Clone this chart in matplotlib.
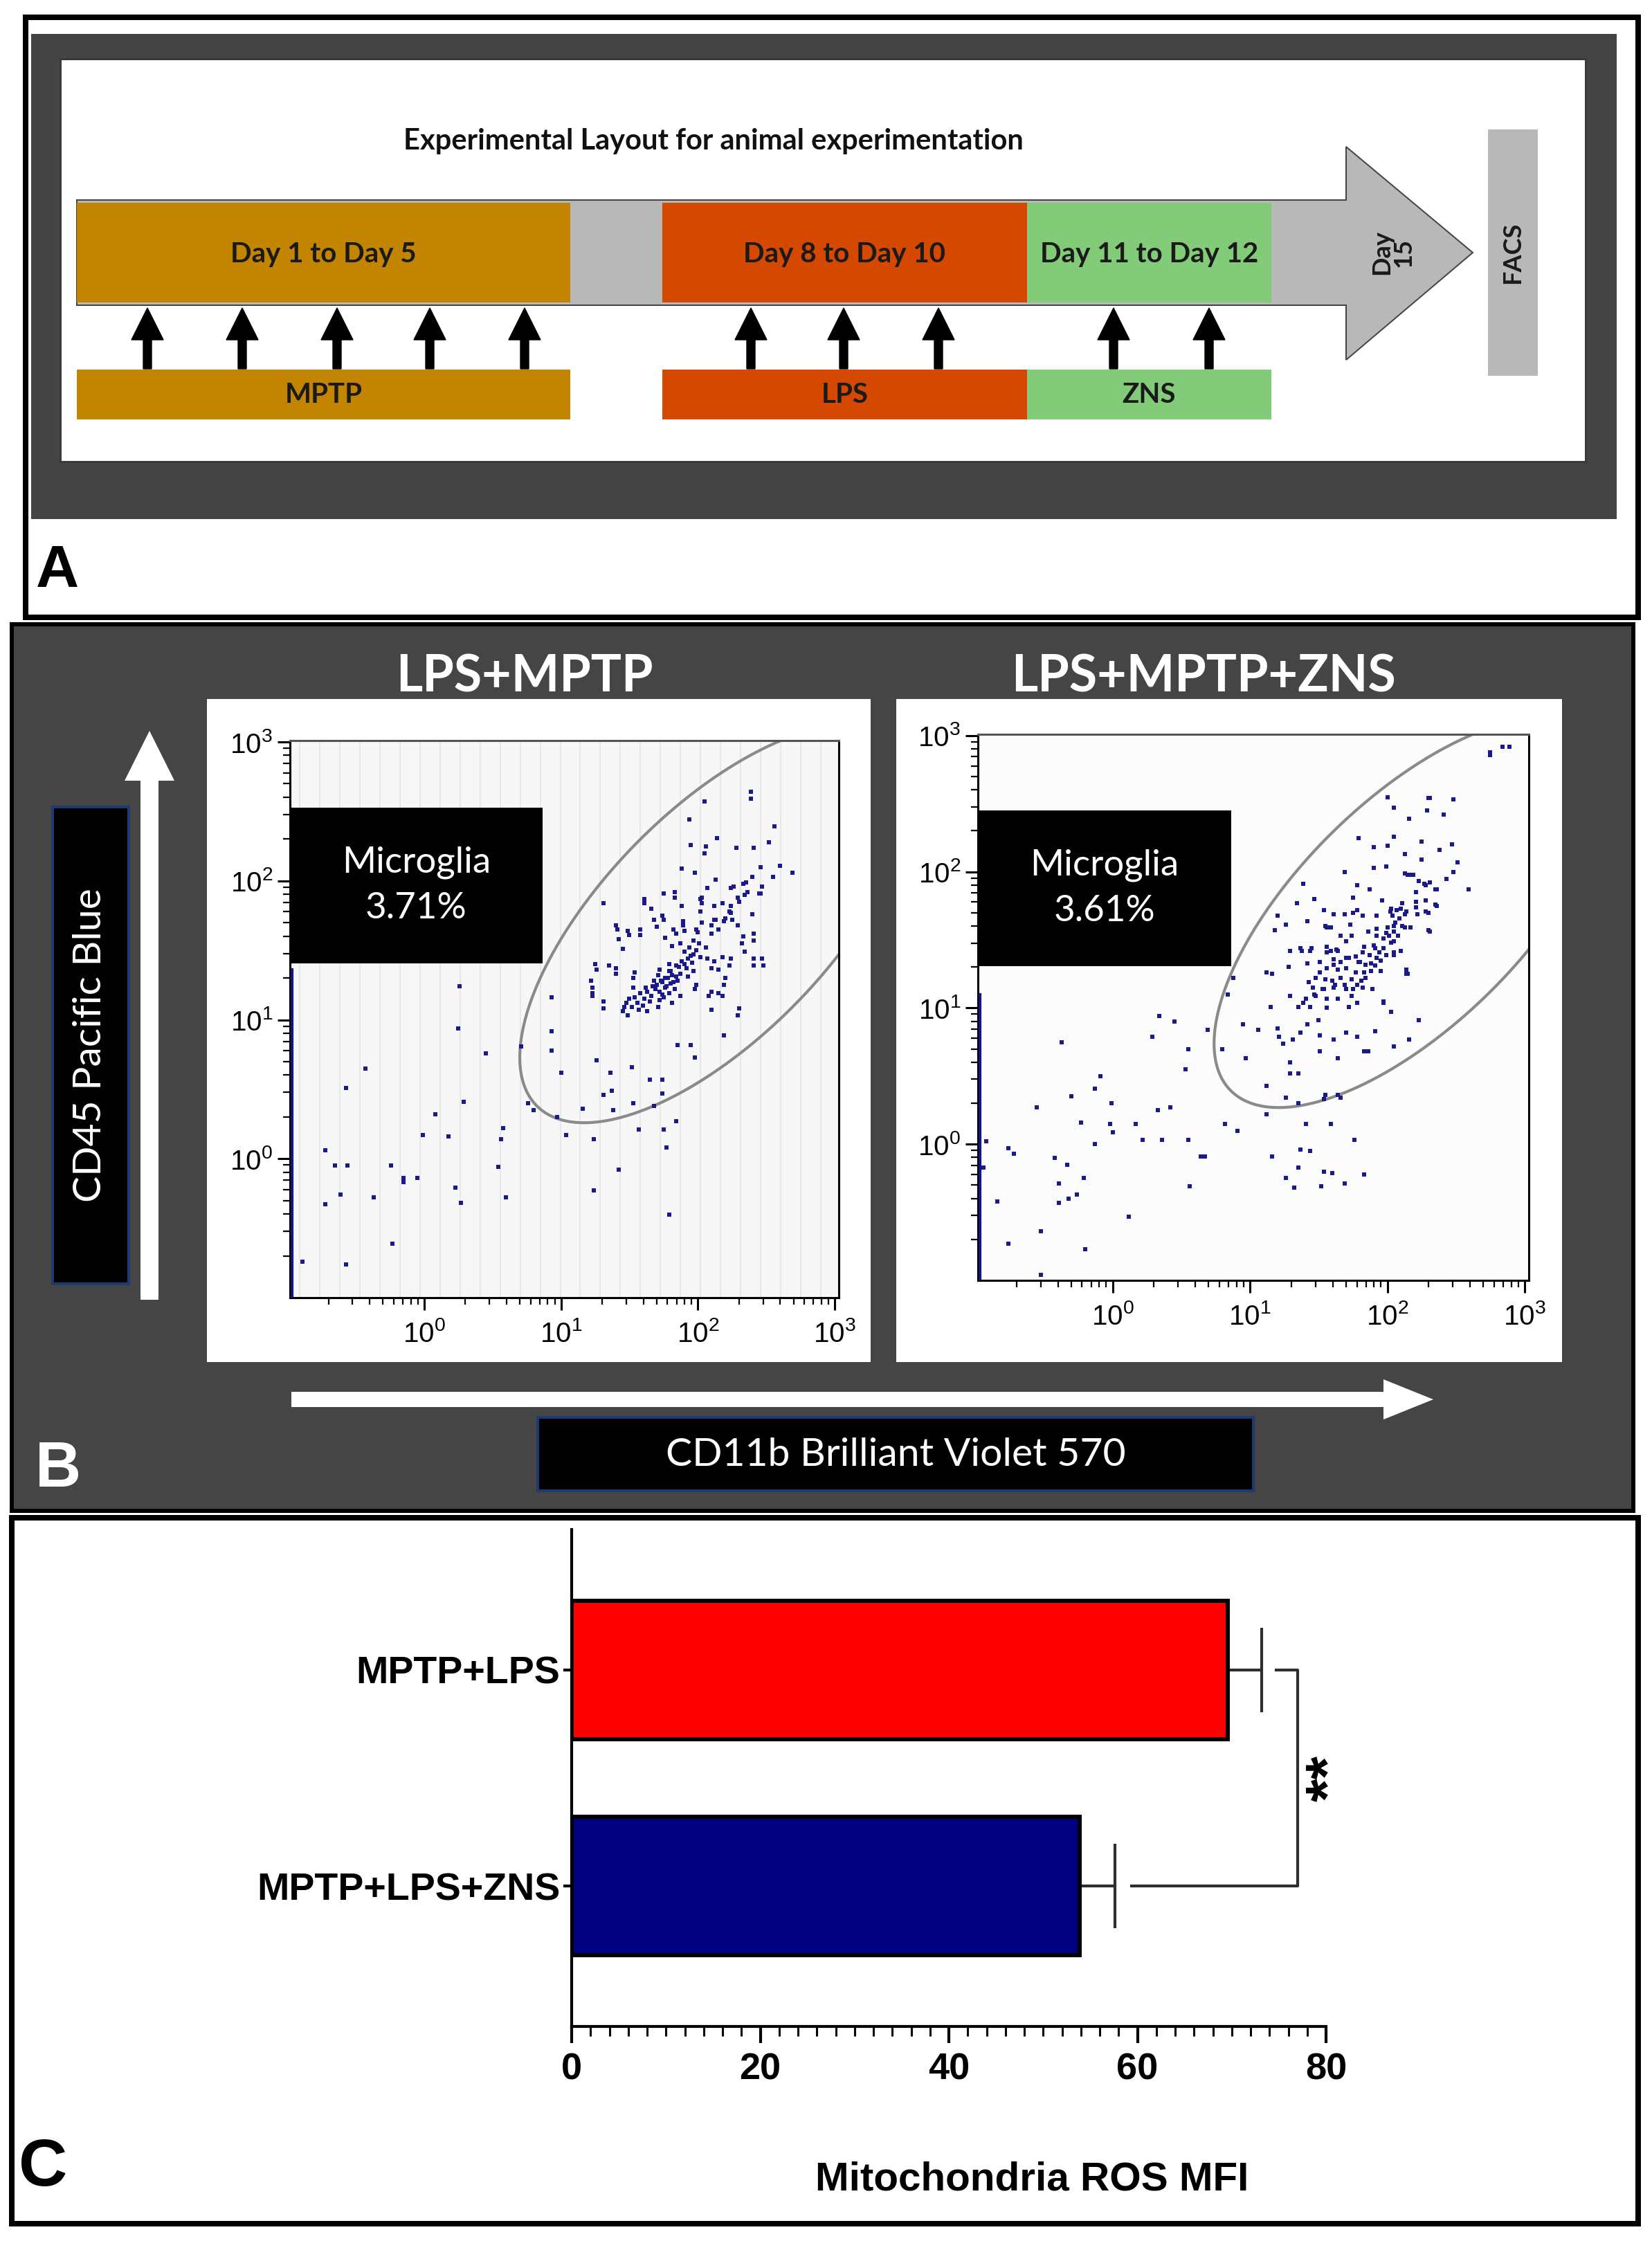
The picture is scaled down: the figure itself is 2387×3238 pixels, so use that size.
import numpy as np
import matplotlib
matplotlib.use("Agg")
import matplotlib.pyplot as plt
from matplotlib.patches import Rectangle, Polygon, FancyArrow
from matplotlib.ticker import FixedLocator, LogLocator, FuncFormatter, MultipleLocator, NullFormatter

# ======================= DATA =======================
# Panel A - experimental timeline
timeline_title = "Experimental Layout for animal experimentation"
timeline_phases = ["Day 1 to Day 5", "Day 8 to Day 10", "Day 11 to Day 12"]
treatments = ["MPTP", "LPS", "ZNS"]
injections_per_treatment = [5, 3, 2]
endpoint_day = "Day\n15"
endpoint_assay = "FACS"

# Panel B - flow cytometry (values are log10 of fluorescence)
flow_titles = ["LPS+MPTP", "LPS+MPTP+ZNS"]
microglia_pct = ["3.71%", "3.61%"]
flow_xlabel = "CD11b Brilliant Violet 570"
flow_ylabel = "CD45 Pacific Blue"
decades = [0, 1, 2, 3]

lps_mptp_outside = [
    (-0.89, -0.74), (-0.72, 0.06), (-0.72, -0.33), (-0.65, -0.05), (-0.61, -0.26), (-0.57, 0.51),
    (-0.56, -0.05), (-0.57, -0.76), (-0.43, 0.65), (-0.37, -0.28), (-0.24, -0.05), (-0.23, -0.61),
    (-0.15, -0.17), (-0.15, -0.14), (-0.05, -0.14), (-0.01, 0.17), (0.08, 0.32), (0.18, 0.16),
    (0.23, -0.21), (0.27, -0.32), (0.25, 0.94), (0.26, 1.24), (0.29, 0.41), (0.45, 0.76),
    (0.54, -0.06), (0.56, 0.14), (0.58, 0.22), (0.60, -0.28), (0.71, 0.81), (0.76, 0.40),
    (0.80, 0.35), (1.04, 0.17), (1.24, 0.14), (1.24, -0.23), (1.42, -0.08), (1.57, 0.21),
    (1.75, 0.21), (1.77, 0.08), (1.79, -0.40), (1.84, 0.27), (0.97, 0.30),
]
lps_mptp_gate = [
    (2.39, 2.64), (2.39, 2.59), (2.05, 2.57), (1.94, 2.44), (2.56, 2.39), (2.14, 2.31), (2.52, 2.28),
    (2.06, 2.25), (2.28, 2.24), (2.41, 2.24), (1.95, 2.26), (2.05, 2.20), (2.60, 2.11), (2.69, 2.06),
    (1.88, 2.09), (1.98, 2.06), (2.13, 2.01), (2.35, 1.99), (2.46, 2.10), (2.55, 2.03), (2.26, 1.96),
    (2.34, 1.90), (2.45, 1.91), (2.03, 1.84), (2.18, 1.84), (2.24, 1.77), (1.83, 1.88), (1.31, 1.84),
    (1.61, 1.84), (1.68, 1.72), (1.75, 1.72), (1.89, 1.71), (2.13, 1.72), (2.29, 1.68), (2.40, 1.76),
    (1.41, 1.65), (1.50, 1.61), (1.58, 1.61), (1.82, 1.65), (2.00, 1.63), (2.41, 1.57), (2.32, 1.55),
    (2.06, 1.52), (1.87, 1.55), (1.42, 1.58), (2.48, 1.39), (2.41, 1.39), (2.23, 1.39), (1.26, 1.36),
    (1.40, 1.33), (2.15, 1.36), (2.19, 1.25), (2.08, 1.17), (2.18, 1.17), (2.29, 1.03), (2.19, 0.89),
    (1.23, 1.23), (1.23, 1.17), (1.31, 1.08), (0.93, 1.16), (0.93, 0.92), (0.93, 0.78), (1.00, 0.62),
    (1.26, 0.71), (1.36, 0.62), (1.52, 0.66), (1.65, 0.57), (1.74, 0.57), (1.98, 0.73), (1.85, 0.82),
    (1.95, 0.82), (1.74, 0.47), (1.68, 0.38), (1.53, 0.40), (1.37, 0.49), (1.31, 0.46), (1.16, 0.36),
    (1.38, 0.35),
    (1.97, 1.57), (2.01, 1.55), (1.94, 1.52), (1.90, 1.49), (1.97, 1.47), (2.02, 1.45), (1.93, 1.44),
    (1.88, 1.42), (1.96, 1.41), (1.84, 1.39), (1.92, 1.37), (1.97, 1.35), (1.79, 1.35), (1.72, 1.36),
    (1.71, 1.32), (1.76, 1.30), (1.81, 1.32), (1.87, 1.33), (1.93, 1.31), (1.74, 1.27), (1.80, 1.26),
    (1.85, 1.28), (1.67, 1.24), (1.76, 1.23), (1.83, 1.22), (1.63, 1.20), (1.72, 1.20), (1.79, 1.19),
    (1.58, 1.19), (1.54, 1.16), (1.61, 1.15), (1.66, 1.17), (1.75, 1.16), (1.48, 1.12), (1.52, 1.09),
    (1.57, 1.07), (1.63, 1.06), (1.45, 1.06), (1.49, 1.03), (1.71, 1.09), (1.81, 1.12), (1.87, 1.17),
    (2.07, 1.44), (2.12, 1.42), (2.18, 1.45), (2.10, 1.37), (1.54, 1.34), (1.53, 1.30), (2.10, 1.20),
    (2.15, 1.19), (1.98, 1.22), (1.99, 1.25), (2.20, 1.30), (2.10, 1.07), (2.30, 1.08), (1.25, 1.40),
    (1.35, 1.39), (1.22, 1.28), (1.23, 1.19), (1.31, 1.13), (1.40, 1.37), (1.45, 1.51), (1.40, 1.68),
    (1.49, 1.64), (1.58, 1.65), (1.70, 1.67), (1.76, 1.59), (1.81, 1.53), (1.84, 1.62), (1.89, 1.68),
    (1.90, 1.64), (1.99, 1.65), (2.03, 1.70), (2.10, 1.68), (2.12, 1.72), (2.19, 1.71), (2.25, 1.72),
    (2.15, 1.65), (2.10, 1.62), (2.33, 1.60), (2.41, 1.62), (2.34, 1.49), (2.41, 1.44), (2.47, 1.44),
    (2.24, 1.44), (2.23, 1.78), (2.24, 1.82), (2.30, 1.85), (2.29, 1.88), (2.20, 1.73), (2.02, 1.78),
    (2.12, 1.82), (2.02, 1.87), (1.88, 1.82), (1.74, 1.75), (1.66, 1.80), (1.61, 1.87), (1.75, 1.91),
    (1.83, 1.92), (2.03, 1.88), (2.07, 1.95), (2.24, 1.95), (2.33, 1.98), (2.36, 1.92), (2.40, 2.03),
    (2.47, 1.96), (2.46, 1.91),
    (1.70, 1.25), (1.73, 1.28), (1.78, 1.30), (1.82, 1.27), (1.77, 1.24), (1.69, 1.22), (1.74, 1.18),
    (1.80, 1.35), (1.86, 1.38), (1.90, 1.40), (1.84, 1.31), (1.65, 1.13), (1.60, 1.10), (1.68, 1.28),
    (1.95, 1.46), (1.99, 1.50), (1.56, 1.12), (1.62, 1.23), (1.79, 1.40), (1.72, 1.14), (1.46, 1.09),
    (1.50, 1.15), (1.53, 1.23),
]

lps_mptp_zns_outside = [
    (-0.92, 0.02), (-0.94, -0.17), (-0.76, -0.03), (-0.72, -0.07), (-0.84, -0.42), (-0.76, -0.73),
    (-0.52, -0.64), (-0.52, -0.96), (-0.55, 0.27), (-0.37, 0.75), (-0.42, -0.10), (-0.39, -0.29),
    (-0.39, -0.43), (-0.33, -0.15), (-0.32, -0.40), (-0.30, 0.35), (-0.26, -0.37), (-0.23, 0.16),
    (-0.21, -0.25), (-0.20, -0.77), (-0.13, 0.00), (-0.13, 0.41), (-0.09, 0.50), (-0.02, 0.15),
    (-0.01, 0.30), (0.00, 0.09), (0.12, -0.53), (0.17, 0.15), (0.22, 0.03), (0.29, 0.79),
    (0.33, 0.25), (0.34, 0.94), (0.36, 0.03), (0.42, 0.27), (0.45, 0.90), (0.53, 0.55),
    (0.55, 0.70), (0.55, 0.03), (0.56, -0.31), (0.64, -0.09), (0.67, -0.09), (0.69, 0.84),
    (0.82, 0.15), (0.80, 0.70), (0.91, 0.10), (0.97, 0.63), (1.12, 0.22), (1.16, -0.09),
    (1.26, -0.25), (1.32, -0.32), (1.35, -0.17), (1.37, -0.04), (1.44, -0.05), (1.52, -0.31),
    (1.54, -0.20), (1.60, -0.21), (1.69, -0.29), (1.76, 0.03), (1.83, -0.22), (1.41, 0.15),
    (1.59, 0.15),
]
lps_mptp_zns_gate = [
    (2.75, 2.86), (2.75, 2.88), (2.84, 2.92), (2.89, 2.92),
    (2.00, 2.55), (2.05, 2.47), (2.30, 2.54), (2.31, 2.54), (2.48, 2.53), (2.29, 2.45), (2.41, 2.42),
    (2.16, 2.39), (2.05, 2.26), (1.79, 2.25), (1.90, 2.18), (2.00, 2.19), (2.13, 2.13), (2.25, 2.22),
    (2.38, 2.16), (2.47, 2.20), (2.25, 2.09), (2.51, 2.07), (1.69, 2.00), (1.90, 2.03), (1.99, 2.04),
    (2.13, 1.99), (2.18, 1.98), (2.48, 2.00), (1.39, 1.91), (1.78, 1.90), (1.87, 1.87), (2.27, 1.91),
    (2.35, 1.87), (2.59, 1.87), (2.43, 1.95), (1.75, 1.81), (1.96, 1.79), (2.11, 1.77), (2.28, 1.79),
    (2.35, 1.76), (1.34, 1.77), (1.47, 1.80), (1.54, 1.72), (1.61, 1.69), (1.78, 1.72), (2.02, 1.71),
    (2.07, 1.72), (2.13, 1.69), (2.21, 1.74), (2.28, 1.71), (1.20, 1.68), (1.18, 1.57), (1.26, 1.61),
    (1.42, 1.64), (1.55, 1.60), (1.73, 1.61), (1.99, 1.55), (2.05, 1.60), (2.11, 1.60), (2.30, 1.57),
    (1.37, 1.44), (1.45, 1.44), (1.56, 1.45), (1.64, 1.42), (1.70, 1.49), (1.83, 1.45), (1.91, 1.44),
    (1.97, 1.51), (2.05, 1.49), (2.10, 1.42), (2.14, 1.28), (2.15, 1.25), (1.12, 1.26), (1.16, 1.25),
    (1.28, 1.30), (1.42, 1.33), (1.51, 1.34), (1.61, 1.36), (1.70, 1.37), (1.80, 1.34), (1.88, 1.33),
    (1.92, 1.37), (1.99, 1.39), (2.05, 1.41), (0.88, 1.22), (0.84, 1.10), (1.15, 1.01), (1.29, 1.09),
    (1.39, 1.04), (1.47, 1.10), (1.54, 1.14), (1.62, 1.17), (1.70, 1.14), (1.78, 1.17), (1.84, 1.22),
    (1.89, 1.14), (1.97, 1.05), (2.03, 0.97), (2.23, 0.91), (2.16, 0.77), (2.05, 0.72), (0.95, 0.88),
    (1.06, 0.84), (1.20, 0.85), (1.21, 0.79), (1.24, 0.74), (1.31, 0.77), (1.37, 0.82), (1.42, 0.88),
    (1.51, 0.80), (1.61, 0.77), (1.70, 0.82), (1.78, 0.79), (1.83, 0.68), (1.86, 0.68), (1.91, 0.83),
    (1.29, 0.60), (1.51, 0.68), (1.64, 0.63), (1.35, 0.52), (1.54, 0.33), (1.66, 0.34), (1.12, 0.43),
    (1.29, 0.52), (1.50, 0.91), (1.26, 0.34), (1.35, 0.30), (1.55, 0.36), (1.64, 0.36),
    (2.05, 1.56), (2.01, 1.53), (2.08, 1.53), (2.03, 1.48), (1.97, 1.44), (1.90, 1.46), (1.94, 1.41),
    (1.87, 1.39), (1.82, 1.41), (1.77, 1.38), (1.72, 1.37), (1.79, 1.34), (1.84, 1.32), (1.91, 1.31),
    (1.95, 1.35), (1.66, 1.34), (1.61, 1.32), (1.56, 1.29), (1.64, 1.28), (1.70, 1.29), (1.77, 1.26),
    (1.83, 1.26), (1.88, 1.27), (1.95, 1.27), (1.51, 1.26), (1.48, 1.22), (1.55, 1.21), (1.60, 1.20),
    (1.66, 1.22), (1.74, 1.21), (1.81, 1.20), (1.69, 1.17), (1.61, 1.15), (1.53, 1.14), (1.46, 1.15),
    (1.43, 1.19), (1.75, 1.14), (1.82, 1.15), (1.74, 1.09), (1.78, 1.04), (1.64, 1.07), (1.56, 1.07),
    (1.48, 1.09), (1.41, 1.07), (1.35, 1.01), (1.44, 1.01), (1.56, 1.00), (1.72, 1.01), (1.97, 1.04),
    (2.14, 1.27), (2.14, 1.25), (2.05, 1.39), (2.00, 1.59), (2.06, 1.63), (2.13, 1.59), (2.17, 1.59),
    (2.10, 1.73), (2.14, 1.71), (2.04, 1.68), (2.09, 1.66), (2.03, 1.73), (2.21, 1.78), (2.22, 1.69),
    (2.30, 1.70), (2.36, 1.75), (2.31, 1.56), (1.92, 1.58), (1.92, 1.53), (1.86, 1.56), (1.74, 1.53),
    (1.66, 1.53), (1.63, 1.43), (1.56, 1.41), (1.59, 1.42), (1.29, 1.42), (1.38, 1.42), (1.44, 1.42),
    (1.92, 1.68), (1.82, 1.68), (1.75, 1.70), (1.69, 1.69), (1.59, 1.59), (1.56, 1.59), (2.19, 1.98),
    (2.15, 1.98), (2.23, 1.93), (2.28, 1.90), (2.21, 1.85), (2.31, 1.92), (2.36, 1.87),
]

gate_lps_mptp = (2.13, 1.69, 1.85, 0.82, 45.0)      # log10 centre x, y, semi-axes, angle (deg)
gate_lps_mptp_zns = (2.17, 1.70, 1.85, 0.82, 45.0)
edge_pile_lps_mptp = (-1.0, 1.36)                    # log10 CD45 span of events piled on the axis
edge_pile_lps_mptp_zns = (-1.0, 1.10)

# Panel C - mitochondrial ROS
groups = ["MPTP+LPS", "MPTP+LPS+ZNS"]
ros_mfi = [69.6, 53.9]
ros_sem = [3.6, 3.7]
bar_colors = ["#FF0000", "#000080"]
sig_label = "**"
ros_xlabel = "Mitochondria ROS MFI"

# ======================= LAYOUT =======================
W, H = 2387, 3238
PT = 72.0 / 100.0          # points per pixel at dpi=100
CAL = ["Lato", "DejaVu Sans"]
ARI = ["Liberation Sans", "DejaVu Sans"]
plt.rcParams["mathtext.fontset"] = "custom"
plt.rcParams["mathtext.rm"] = "Liberation Sans"

fig = plt.figure(figsize=(W / 100, H / 100), dpi=100)
fig.patch.set_facecolor("white")
bg = fig.add_axes([0, 0, 1, 1])
bg.set_xlim(0, W)
bg.set_ylim(H, 0)
bg.axis("off")


def rect(x0, y0, x1, y1, **kw):
    bg.add_patch(Rectangle((x0, y0), x1 - x0, y1 - y0, **kw))


# ---------------- Panel A ----------------
rect(37, 25, 2367, 892, fc="white", ec="black", lw=8 * PT)
rect(45, 49, 2336, 750, fc="#444444", ec="none")
rect(87, 85, 2291, 667, fc="white", ec="#3a3a3a", lw=3 * PT)
bg.text(1031, 204, timeline_title, ha="center", va="center", fontsize=30,
        fontweight="bold", family=CAL, color="#111111")

body_top, body_bot, body_l = 289, 441, 111
head_x, head_top, head_bot, tip_x = 1945, 212, 520, 2128
mid = (body_top + body_bot) / 2
bg.add_patch(Polygon([(body_l, body_top), (head_x, body_top), (head_x, head_top), (tip_x, mid),
                      (head_x, head_bot), (head_x, body_bot), (body_l, body_bot)],
                     closed=True, fc="#B8B8B8", ec="#444444", lw=2 * PT))
phase_spans = [(111, 824), (957, 1484), (1484, 1837)]
phase_colors = ["#C38400", "#D44800", "#82CB78"]
for (x0, x1), c, lab in zip(phase_spans, phase_colors, timeline_phases):
    rect(x0, body_top + 4, x1, body_bot - 4, fc=c, ec="none")
    bg.text((x0 + x1) / 2, mid + 2, lab, ha="center", va="center", fontsize=29,
            fontweight="bold", family=CAL, color="#1a1a1a")
bg.text(2012, mid, endpoint_day, ha="center", va="center", rotation=90, fontsize=26,
        fontweight="bold", family=CAL, color="#1a1a1a", linespacing=0.95)
rect(2150, 187, 2222, 543, fc="#B8B8B8", ec="none")
bg.text(2186, mid, endpoint_assay, ha="center", va="center", rotation=90, fontsize=26,
        fontweight="bold", family=CAL, color="#1a1a1a")

arrow_x = [[213, 350, 487, 621, 758], [1085, 1219, 1356], [1609, 1747]]
for (x0, x1), c, lab, xs, n in zip(phase_spans, phase_colors, treatments, arrow_x,
                                   injections_per_treatment):
    rect(x0, 534, x1, 606, fc=c, ec="none")
    bg.text((x0 + x1) / 2, 571, lab, ha="center", va="center", fontsize=29,
            fontweight="bold", family=CAL, color="#1a1a1a")
    for xa in xs[:n]:
        bg.add_patch(FancyArrow(xa, 533, 0, -88, width=12, head_width=46, head_length=46,
                                length_includes_head=True, color="black"))
bg.text(83, 826, "A", ha="center", va="center", fontsize=62, fontweight="bold",
        family=ARI, color="black")

# ---------------- Panel B ----------------
rect(17, 902, 2360, 2183, fc="#454545", ec="black", lw=6 * PT)
panel_boxes = [(299, 1010, 1258, 1968), (1295, 1010, 2257, 1968)]
for (x0, y0, x1, y1) in panel_boxes:
    rect(x0, y0, x1, y1, fc="white", ec="none")
for xc, t in zip([758, 1739], flow_titles):
    bg.text(xc, 978, t, ha="center", va="center", fontsize=53, fontweight="bold",
            family=CAL, color="white")
rect(76, 1166, 186, 1855, fc="black", ec="#1d3a70", lw=4 * PT)
bg.text(131, 1510, flow_ylabel, ha="center", va="center", rotation=90, fontsize=41,
        family=CAL, color="white")
bg.add_patch(FancyArrow(216, 1878, 0, -822, width=26, head_width=72, head_length=72,
                        length_includes_head=True, color="white", ec="none"))
bg.add_patch(FancyArrow(421, 2022, 1650, 0, width=22, head_width=58, head_length=72,
                        length_includes_head=True, color="white", ec="none"))
rect(777, 2048, 1811, 2154, fc="black", ec="#1d3a70", lw=4 * PT)
bg.text(1294, 2102, flow_xlabel, ha="center", va="center", fontsize=41,
        family=CAL, color="white")
bg.text(84, 2124, "B", ha="center", va="center", fontsize=66, fontweight="bold",
        family=ARI, color="white")


def flow_panel(box, outside, inside, gate, pile, pct, stripes, box_frac):
    l, t, r, b = box
    ax = fig.add_axes([l / W, 1 - b / H, (r - l) / W, (b - t) / H])
    ax.set_xscale("log")
    ax.set_yscale("log")
    xmin = 10 ** -0.98
    ax.set_xlim(xmin, 10 ** 3.03)
    ax.set_ylim(10 ** -1.0, 10 ** 3.01)
    ax.set_facecolor("#f7f7f7" if stripes else "#fcfcfc")
    if stripes:
        for xf in np.arange(0.018, 1.0, 0.0365):
            ax.plot([xf, xf], [0, 1], transform=ax.transAxes, color="#e4e4e4", lw=1.2, zorder=0)
    ev = np.array(outside + inside)
    ax.scatter(10 ** ev[:, 0], 10 ** ev[:, 1], s=14, marker="s", color="#1a1a8a",
               linewidths=0, zorder=3)
    cx, cy, a, bb, ang = gate
    th = np.radians(ang)
    tt = np.linspace(0, 2 * np.pi, 720)
    u, v = a * np.cos(tt), bb * np.sin(tt)
    gx = cx + u * np.cos(th) - v * np.sin(th)
    gy = cy + u * np.sin(th) + v * np.cos(th)
    ax.plot(10 ** gx, 10 ** gy, color="#8a8a8a", lw=3, zorder=2)
    ax.plot([xmin * 1.03, xmin * 1.03], [10 ** pile[0], 10 ** pile[1]], color="#16167a",
            lw=3, zorder=3)
    y0, y1 = box_frac
    ax.add_patch(Rectangle((0, y0), 0.46, y1 - y0, transform=ax.transAxes, fc="black",
                           ec="none", zorder=5))
    ax.text(0.23, (y0 + y1) / 2, "Microglia\n" + pct, transform=ax.transAxes, ha="center",
            va="center", fontsize=38, family=CAL, color="white", linespacing=1.5, zorder=6)
    for s in ax.spines.values():
        s.set_color("black")
        s.set_linewidth(2.2)
    ax.spines["top"].set_color("#555555")
    major = [10.0 ** d for d in decades]
    fmt = FuncFormatter(lambda val, pos: r"$\mathregular{10^{%d}}$" % round(np.log10(val)))
    for axis in (ax.xaxis, ax.yaxis):
        axis.set_major_locator(FixedLocator(major))
        axis.set_major_formatter(fmt)
        axis.set_minor_locator(LogLocator(base=10, subs=np.arange(2, 10)))
        axis.set_minor_formatter(NullFormatter())
    ax.tick_params(which="major", direction="out", length=13, width=2.2, labelsize=29,
                   pad=5, colors="black")
    ax.tick_params(axis="x", which="major", pad=11)
    ax.tick_params(which="minor", direction="out", length=7, width=1.6)
    for lab in ax.get_xticklabels() + ax.get_yticklabels():
        lab.set_family(ARI)
    return ax


flow_panel((419, 1070, 1212, 1875), lps_mptp_outside, lps_mptp_gate, gate_lps_mptp,
           edge_pile_lps_mptp, microglia_pct[0], True, (0.60, 0.88))
flow_panel((1413, 1061, 2209, 1850), lps_mptp_zns_outside, lps_mptp_zns_gate, gate_lps_mptp_zns,
           edge_pile_lps_mptp_zns, microglia_pct[1], False, (0.575, 0.861))

# ---------------- Panel C ----------------
rect(17, 2193, 2367, 3213, fc="white", ec="black", lw=8 * PT)
bg.text(62, 3133, "C", ha="center", va="center", fontsize=70, fontweight="bold",
        family=ARI, color="black")

axc = fig.add_axes([826 / W, 1 - 2928 / H, 1090 / W, 718 / H])
axc.patch.set_alpha(0)
ypos = np.arange(len(groups))[::-1]
axc.barh(ypos, ros_mfi, height=0.64, color=bar_colors, edgecolor="black", linewidth=4.3, zorder=3)
cap = 0.195
for y, m, e in zip(ypos, ros_mfi, ros_sem):
    axc.hlines(y, m, m + e, color="#2e2e2e", lw=3, zorder=2)
    axc.vlines(m + e, y - cap, y + cap, color="#2e2e2e", lw=3, zorder=2)
x_br = 77.0
top_start = ros_mfi[0] + ros_sem[0] + 1.5
bot_start = ros_mfi[1] + ros_sem[1] + 1.8
axc.plot([top_start, x_br, x_br, bot_start], [ypos[0], ypos[0], ypos[1], ypos[1]],
         color="#2e2e2e", lw=3, clip_on=False, zorder=2)
axc.text(x_br + 3.6, (ypos[0] + ypos[1]) / 2, sig_label, rotation=90, ha="center", va="center",
         fontsize=62, fontweight="bold", family=ARI, color="black")
axc.set_xlim(0, 80)
axc.set_ylim(-0.65, 1.65)
axc.set_yticks(ypos)
axc.set_yticklabels(groups)
axc.xaxis.set_major_locator(MultipleLocator(20))
axc.xaxis.set_minor_locator(MultipleLocator(2))
for sp in ("top", "right"):
    axc.spines[sp].set_visible(False)
for sp in ("left", "bottom"):
    axc.spines[sp].set_linewidth(3)
axc.tick_params(axis="x", which="major", direction="out", length=17, width=3, pad=10, labelsize=39)
axc.tick_params(axis="x", which="minor", direction="out", length=10, width=2.2)
axc.tick_params(axis="y", direction="out", length=9, width=3, pad=3, labelsize=40)
for lab in axc.get_xticklabels() + axc.get_yticklabels():
    lab.set_family(ARI)
    lab.set_fontweight("bold")
axc.set_xlabel(ros_xlabel, fontsize=42, fontweight="bold", family=ARI)
axc.xaxis.set_label_coords(0.61, -0.308)
axc.xaxis.label.set_va("center")

fig.savefig("out.png", dpi=100)
